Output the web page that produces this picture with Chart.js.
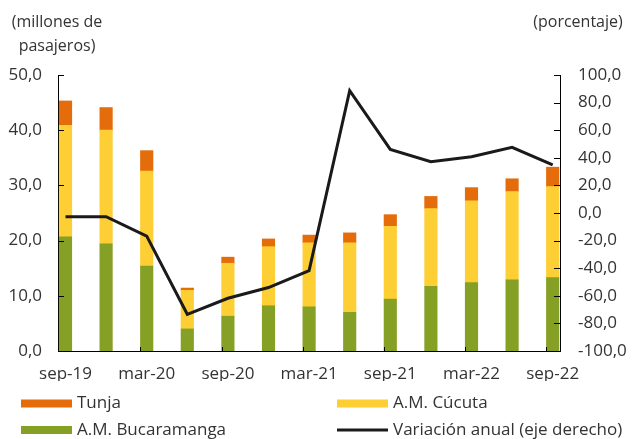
<!DOCTYPE html>
<html>
<head>
<meta charset="utf-8">
<script src="https://cdn.jsdelivr.net/npm/chart.js@4/dist/chart.umd.min.js"></script>
<style>
  html, body { margin: 0; padding: 0; background: #fff; }
  #wrap { width: 641px; height: 439px; }
</style>
</head>
<body>
<div id="wrap"><canvas id="chart" width="641" height="439"></canvas></div>
<script>
// trimestres
const quarters = ['sep-19', 'dic-19', 'mar-20', 'jun-20', 'sep-20', 'dic-20', 'mar-21',
                  'jun-21', 'sep-21', 'dic-21', 'mar-22', 'jun-22', 'sep-22'];
// millones de pasajeros
const bucaramanga = [20.7, 19.4, 15.4, 4.0, 6.3, 8.2, 8.0, 7.0, 9.4, 11.7, 12.4, 12.9, 13.3];
const cucuta      = [20.2, 20.6, 17.2, 7.0, 9.6, 10.7, 11.6, 12.6, 13.2, 14.1, 14.8, 16.0, 16.5];
const tunja       = [4.4, 4.1, 3.7, 0.4, 1.1, 1.4, 1.4, 1.8, 2.1, 2.2, 2.4, 2.3, 3.5];
// variación anual (porcentaje)
const variacion   = [-2.7, -2.7, -16.7, -73.4, -61.8, -54.0, -41.8, 88.6, 46.1, 37.2, 40.8, 47.6, 34.8];

const FONT = '"Open Sans", Lato, sans-serif';
const TEXT = '#333333';
const BAR_W = 12.5;

function fmt(v) {
    return v.toFixed(1).replace('.', ',');
}

function toPoints(values) {
    return values.map((v, i) => ({ x: i, y: v }));
}

// axis titles, inner tick marks and legend
const decorations = {
    id: 'decorations',
    afterDraw(chart) {
        const ctx = chart.ctx;
        const x = chart.scales.x, y = chart.scales.y, y2 = chart.scales.y2;
        const area = chart.chartArea;
        ctx.save();
        ctx.strokeStyle = '#000';
        ctx.lineWidth = 1;
        ctx.beginPath();
        y.ticks.forEach(t => {
            const py = Math.round(y.getPixelForValue(t.value)) + 0.5;
            ctx.moveTo(area.left, py);
            ctx.lineTo(area.left + 6, py);
        });
        y2.ticks.forEach(t => {
            const py = Math.round(y2.getPixelForValue(t.value)) + 0.5;
            ctx.moveTo(area.right - 6, py);
            ctx.lineTo(area.right, py);
        });
        for (let i = 2; i < quarters.length; i += 2) {
            const px = Math.round(x.getPixelForValue(i) - BAR_W / 2) + 0.5;
            ctx.moveTo(px, area.bottom);
            ctx.lineTo(px, area.bottom - 4);
        }
        ctx.stroke();

        ctx.fillStyle = TEXT;
        ctx.font = '16px ' + FONT;
        ctx.textAlign = 'center';
        ctx.textBaseline = 'middle';
        ctx.fillText('(millones de', 57, 22);
        ctx.fillText('pasajeros)', 57, 46);
        ctx.fillText('(porcentaje)', 578, 22);

        const items = [
            { label: 'Tunja', color: '#E46C0A', x: 21, y: 403.5, line: false },
            { label: 'A.M. Cúcuta', color: '#FECE35', x: 337, y: 403.5, line: false },
            { label: 'A.M. Bucaramanga', color: '#86A025', x: 21, y: 430, line: false },
            { label: 'Variación anual (eje derecho)', color: '#1a1a1a', x: 337, y: 430, line: true }
        ];
        ctx.font = '17px ' + FONT;
        ctx.textAlign = 'left';
        items.forEach(it => {
            ctx.fillStyle = it.color;
            if (it.line) {
                ctx.fillRect(it.x, it.y - 1.5, 51, 3);
            } else {
                ctx.fillRect(it.x, it.y - 4, 51, 8);
            }
            ctx.fillStyle = TEXT;
            ctx.fillText(it.label, it.x + 56, it.y);
        });
        ctx.restore();
    }
};

const config = {
    data: {
        datasets: [
            {
                type: 'line',
                label: 'Variación anual (eje derecho)',
                data: toPoints(variacion),
                yAxisID: 'y2',
                borderColor: '#1a1a1a',
                borderWidth: 3,
                pointRadius: 0,
                tension: 0,
                order: 0
            },
            {
                type: 'bar',
                label: 'A.M. Bucaramanga',
                data: toPoints(bucaramanga),
                backgroundColor: '#86A025',
                barThickness: BAR_W,
                yAxisID: 'y',
                order: 1
            },
            {
                type: 'bar',
                label: 'A.M. Cúcuta',
                data: toPoints(cucuta),
                backgroundColor: '#FECE35',
                barThickness: BAR_W,
                yAxisID: 'y',
                order: 1
            },
            {
                type: 'bar',
                label: 'Tunja',
                data: toPoints(tunja),
                backgroundColor: '#E46C0A',
                barThickness: BAR_W,
                yAxisID: 'y',
                order: 1
            }
        ]
    },
    options: {
        responsive: false,
        animation: false,
        layout: { padding: { left: 0, right: 0, top: 75, bottom: 58 } },
        plugins: {
            legend: { display: false },
            tooltip: { enabled: false }
        },
        scales: {
            x: {
                type: 'linear',
                stacked: true,
                offset: false,
                min: -0.185,
                max: 12.18,
                afterFit: s => { s.height = 30; },
                afterBuildTicks: s => {
                    s.ticks = quarters.map((q, i) => ({ value: i })).filter(t => t.value % 2 === 0);
                },
                grid: { display: false, drawTicks: false },
                border: { display: true, color: '#000', width: 1 },
                ticks: {
                    padding: 13,
                    maxRotation: 0,
                    autoSkip: false,
                    color: TEXT,
                    font: { family: FONT, size: 17 },
                    callback: v => quarters[v]
                }
            },
            y: {
                position: 'left',
                stacked: true,
                min: 0,
                max: 50,
                afterFit: s => { s.width = 58; },
                grid: { display: false, drawTicks: false },
                border: { display: true, color: '#000', width: 1 },
                ticks: {
                    stepSize: 10,
                    padding: 16,
                    color: TEXT,
                    font: { family: FONT, size: 17 },
                    callback: v => fmt(v)
                }
            },
            y2: {
                position: 'right',
                min: -100,
                max: 100,
                afterFit: s => { s.width = 81; },
                grid: { display: false, drawTicks: false },
                border: { display: true, color: '#000', width: 1 },
                ticks: {
                    stepSize: 20,
                    padding: 18,
                    color: TEXT,
                    font: { family: FONT, size: 17 },
                    callback: v => fmt(v)
                }
            }
        }
    },
    plugins: [decorations]
};

new Chart(document.getElementById('chart'), config);
</script>
</body>
</html>
